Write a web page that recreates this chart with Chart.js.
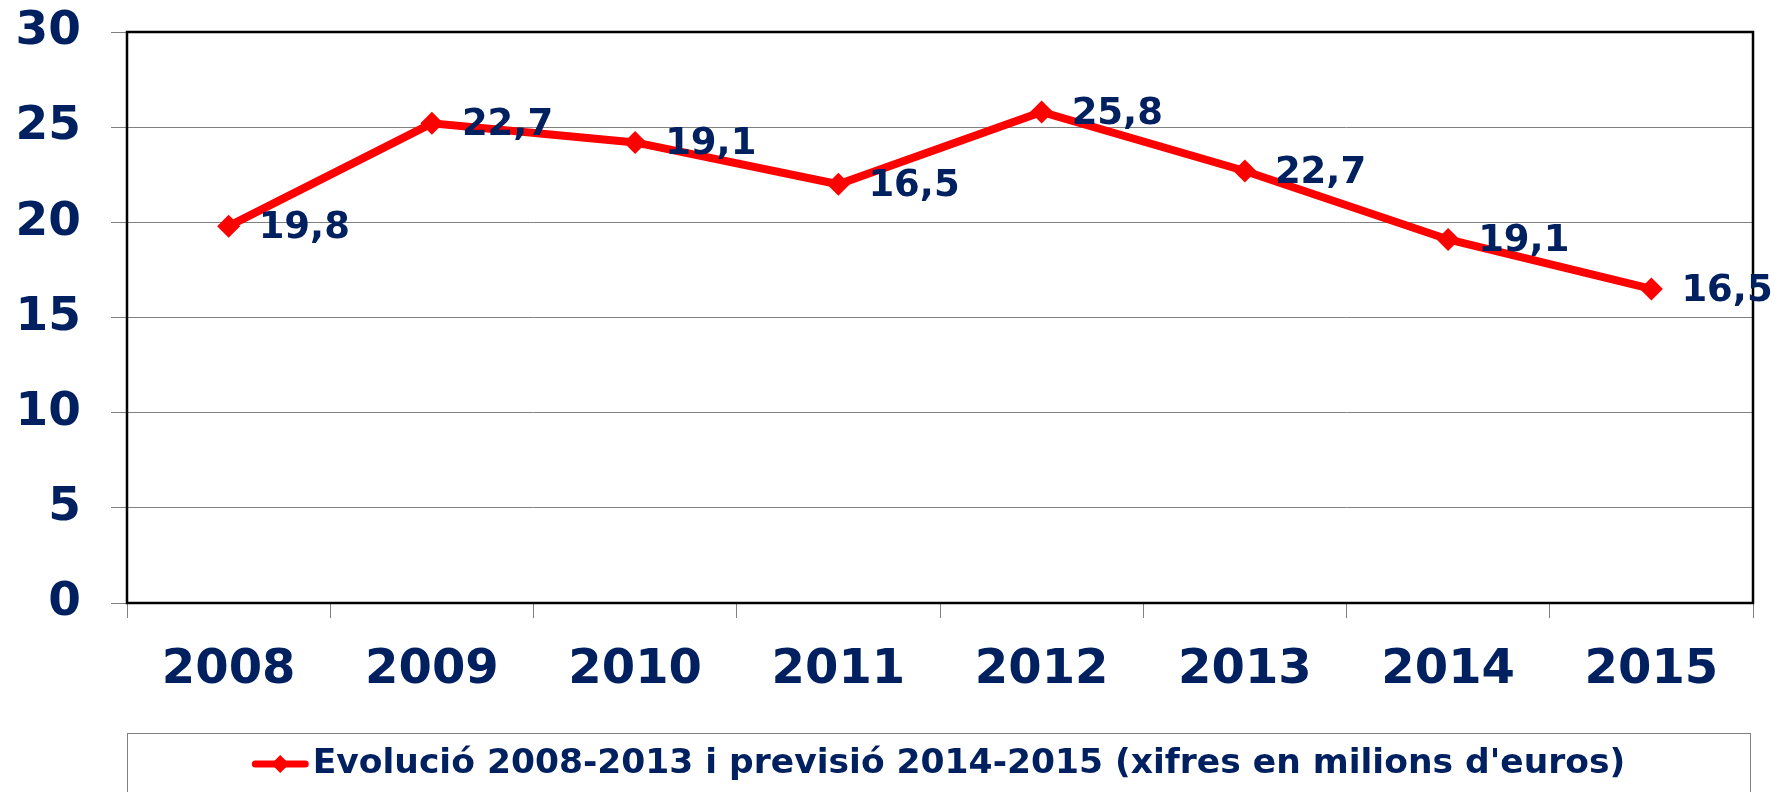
<!DOCTYPE html>
<html lang="ca">
	<head>
		<meta charset="UTF-8" />
		<title>Evolució 2008-2015</title>
		<script src="https://cdn.jsdelivr.net/npm/chart.js"></script>
		<style>
			html,
			body {
				margin: 0;
				padding: 0;
				background: #ffffff;
			}
			#wrap {
				width: 1774px;
				height: 792px;
			}
		</style>
	</head>
	<body>
		<div id="wrap">
			<canvas id="lineChart" width="1774" height="792"></canvas>
		</div>

		<script>
			// data
			const years = ["2008", "2009", "2010", "2011", "2012", "2013", "2014", "2015"];
			const values = [19.8, 25.2, 24.2, 22.0, 25.8, 22.7, 19.1, 16.5];
			// the printed labels (they do not all match the plotted points)
			const pointLabels = ["19,8", "22,7", "19,1", "16,5", "25,8", "22,7", "19,1", "16,5"];
			const yTicks = [0, 5, 10, 15, 20, 25, 30];
			const seriesName = "Evolució 2008-2013 i previsió 2014-2015 (xifres en milions d'euros)";

			const navy = "#002060";
			const red = "#ff0000";
			const fontFamily = "'DejaVu Sans', Verdana, sans-serif";

			// black frame round the plot area, drawn under the line
			const framePlugin = {
				id: "frame",
				beforeDatasetsDraw(chart) {
					const { ctx, chartArea: a } = chart;
					ctx.save();
					ctx.strokeStyle = "#000000";
					ctx.lineWidth = 2.5;
					ctx.strokeRect(a.left, a.top, a.right - a.left, a.bottom - a.top);
					ctx.restore();
				},
			};

			// value labels to the right of each point
			const labelPlugin = {
				id: "pointLabels",
				afterDatasetsDraw(chart) {
					const ctx = chart.ctx;
					const meta = chart.getDatasetMeta(0);
					ctx.save();
					ctx.font = "bold 37px " + fontFamily;
					ctx.fillStyle = navy;
					ctx.textAlign = "left";
					ctx.textBaseline = "middle";
					meta.data.forEach((pt, i) => {
						ctx.fillText(pointLabels[i], pt.x + 30, pt.y + 2);
					});
					ctx.restore();
				},
			};

			// boxed legend under the axis
			const legendPlugin = {
				id: "boxLegend",
				afterDraw(chart) {
					const { ctx, chartArea: a } = chart;
					const left = a.left;
					const right = a.right - 3;
					const top = a.bottom + 130;
					ctx.save();
					ctx.strokeStyle = "#808080";
					ctx.lineWidth = 1;
					ctx.strokeRect(left + 0.5, top + 0.5, right - left, 100);

					ctx.font = "bold 34.5px " + fontFamily;
					const textW = ctx.measureText(seriesName).width;
					const markW = 57;
					const gap = 4;
					const total = markW + gap + textW;
					const x0 = (left + right) / 2 - total / 2;
					const cy = top + 31;

					ctx.strokeStyle = red;
					ctx.lineWidth = 7;
					ctx.lineCap = "round";
					ctx.beginPath();
					ctx.moveTo(x0 + 3.5, cy);
					ctx.lineTo(x0 + markW - 3.5, cy);
					ctx.stroke();

					ctx.fillStyle = red;
					ctx.beginPath();
					const mx = x0 + markW / 2;
					ctx.moveTo(mx, cy - 9);
					ctx.lineTo(mx + 9, cy);
					ctx.lineTo(mx, cy + 9);
					ctx.lineTo(mx - 9, cy);
					ctx.closePath();
					ctx.fill();

					ctx.fillStyle = navy;
					ctx.textAlign = "left";
					ctx.textBaseline = "middle";
					ctx.fillText(seriesName, x0 + markW + gap, cy);
					ctx.restore();
				},
			};

			const ctx = document.getElementById("lineChart").getContext("2d");
			new Chart(ctx, {
				type: "line",
				data: {
					labels: years,
					datasets: [
						{
							label: seriesName,
							data: values,
							borderColor: red,
							backgroundColor: red,
							borderWidth: 8,
							pointStyle: "rectRot",
							pointRadius: 11.5,
							pointHoverRadius: 11.5,
							pointBorderWidth: 0,
							pointBackgroundColor: red,
							tension: 0,
						},
					],
				},
				options: {
					responsive: false,
					animation: false,
					layout: {
						padding: { left: 16, right: 21, top: 32, bottom: 97 },
					},
					plugins: {
						legend: { display: false },
						tooltip: { enabled: false },
					},
					scales: {
						x: {
							offset: true,
							border: { display: false },
							afterFit(axis) {
								axis.height = 92;
							},
							grid: {
								offset: true,
								drawOnChartArea: false,
								tickLength: 15,
								color: "#808080",
							},
							ticks: {
								padding: 24,
								color: navy,
								font: { family: fontFamily, size: 48, weight: "bold" },
							},
						},
						y: {
							min: 0,
							max: 30,
							afterBuildTicks(axis) {
								axis.ticks = yTicks.map((v) => ({ value: v }));
							},
							afterFit(axis) {
								axis.width = 111;
								axis.paddingTop = 0;
								axis.paddingBottom = 0;
							},
							border: { display: false },
							grid: {
								color: "#808080",
								lineWidth: 1,
								tickLength: 16,
							},
							ticks: {
								padding: 30,
								color: navy,
								font: { family: fontFamily, size: 47, weight: "bold" },
							},
						},
					},
				},
				plugins: [framePlugin, labelPlugin, legendPlugin],
			});
		</script>
	</body>
</html>
